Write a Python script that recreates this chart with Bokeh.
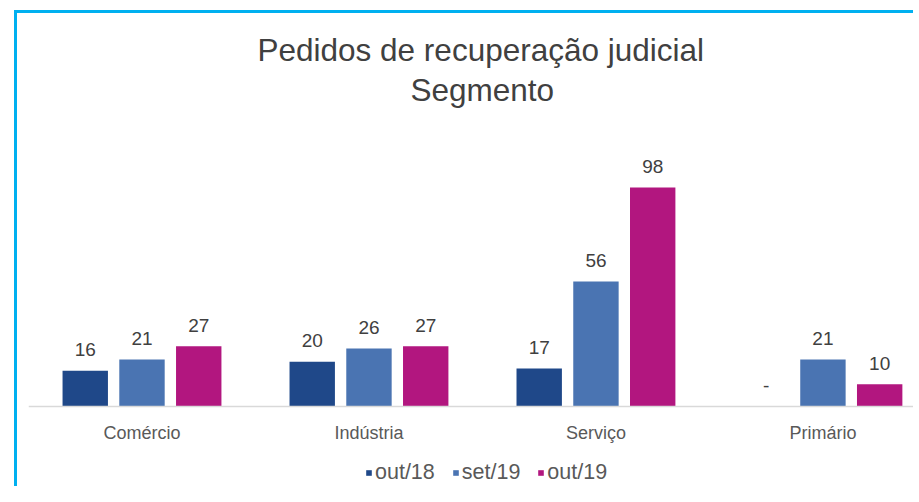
from bokeh.plotting import figure
from bokeh.models import (ColumnDataSource, Range1d, FixedTicker, Title, Legend,
                          LegendItem)
from bokeh.transform import dodge
from bokeh.core.properties import value
from bokeh.embed import file_html
from bokeh.resources import INLINE

segments = ["Comércio", "Indústria", "Serviço", "Primário"]
series = ["out/18", "set/19", "out/19"]
out18 = [16, 20, 17, 0]
set19 = [21, 26, 56, 21]
out19 = [27, 27, 98, 10]
out18_labels = ["16", "20", "17", "-"]
set19_labels = ["21", "26", "56", "21"]
out19_labels = ["27", "27", "98", "10"]
colors = ["#1f4889", "#4a74b2", "#b2167f"]

FONT = "Liberation Sans"

idx = list(range(len(segments)))
source = ColumnDataSource(data=dict(
    idx=idx, out18=out18, set19=set19, out19=out19,
    out18_labels=out18_labels, set19_labels=set19_labels, out19_labels=out19_labels,
))

p = figure(frame_width=885, frame_height=366, x_range=Range1d(-0.5, 3.399),
           y_range=Range1d(-35.8, 128),
           output_backend="svg", toolbar_location=None, y_axis_location=None,
           min_border_left=11, min_border_right=0, min_border_top=107, min_border_bottom=0,
           styles={"border-top": "3px solid #00B0F0", "border-left": "3px solid #00B0F0",
                   "margin-left": "14px", "margin-top": "10px"})
p.outline_line_color = None
p.xgrid.visible = False
p.ygrid.visible = False

fields = ["out18", "set19", "out19"]
offsets = [-0.25, 0.0, 0.25]
items = []
for f, off, c, name in zip(fields, offsets, colors, series):
    r = p.vbar(x=dodge("idx", off), top=f, bottom=0, width=0.2, source=source,
               fill_color=c, line_color=None)
    p.text(x=dodge("idx", off), y=f, text=f + "_labels", source=source,
           text_align="center", text_baseline="middle", y_offset=-21,
           text_font=value(FONT), text_font_size="19px", text_color="#404040")
    items.append(LegendItem(label=name, renderers=[r]))

ax = p.xaxis[0]
ax.fixed_location = 0
ax.ticker = FixedTicker(ticks=idx)
ax.major_label_overrides = {i: s for i, s in zip(idx, segments)}
ax.major_tick_line_color = None
ax.minor_tick_line_color = None
ax.axis_line_color = "#d9d9d9"
ax.axis_line_width = 1.5
ax.major_label_standoff = 10
ax.major_label_text_font = FONT
ax.major_label_text_font_size = "18px"
ax.major_label_text_color = "#595959"

legend = Legend(items=items, orientation="horizontal", location=(337, 1),
                border_line_color=None, background_fill_alpha=0,
                label_text_font=FONT, label_text_font_size="21.5px",
                label_text_color="#595959", glyph_width=7, glyph_height=7,
                label_standoff=3, spacing=17, padding=0, margin=0)
p.add_layout(legend)

p.add_layout(Title(text="Segmento", align="left", offset=382, text_font=FONT,
                   text_font_size="31.5px", text_font_style="normal", text_color="#404040",
                   standoff=26), "above")
p.add_layout(Title(text="Pedidos de recuperação judicial", align="left", offset=229,
                   text_font=FONT, text_font_size="31.5px", text_font_style="normal",
                   text_color="#404040", standoff=-22), "above")

open("out.html", "w").write(file_html(p, INLINE))
